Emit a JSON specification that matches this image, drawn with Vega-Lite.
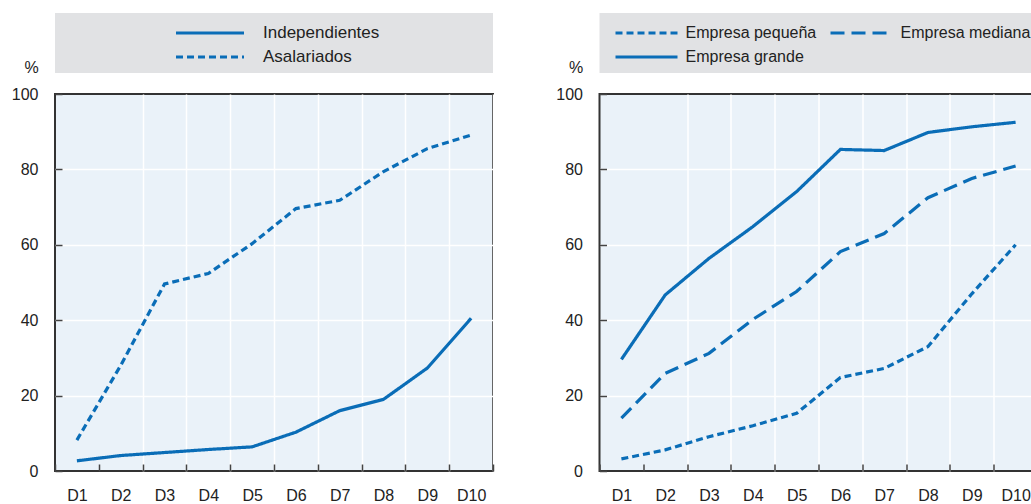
{
  "$schema": "https://vega.github.io/schema/vega-lite/v6.json",
  "autosize": {"type": "pad"},
  "padding": {"left": 10, "top": 13, "right": 0, "bottom": 0},
  "background": "white",
  "config": {
    "font": "Liberation Sans",
    "view": {"stroke": null},
    "line": {"color": "#0a6db7"}
  },
  "datasets": {
    "ocupacion": [
      {"decil": "D1", "serie": "Independientes", "valor": 2.7},
      {"decil": "D2", "serie": "Independientes", "valor": 4.1},
      {"decil": "D3", "serie": "Independientes", "valor": 4.9},
      {"decil": "D4", "serie": "Independientes", "valor": 5.7},
      {"decil": "D5", "serie": "Independientes", "valor": 6.4},
      {"decil": "D6", "serie": "Independientes", "valor": 10.3},
      {"decil": "D7", "serie": "Independientes", "valor": 16.0},
      {"decil": "D8", "serie": "Independientes", "valor": 19.0},
      {"decil": "D9", "serie": "Independientes", "valor": 27.3},
      {"decil": "D10", "serie": "Independientes", "valor": 40.5},
      {"decil": "D1", "serie": "Asalariados", "valor": 8.2},
      {"decil": "D2", "serie": "Asalariados", "valor": 28.0},
      {"decil": "D3", "serie": "Asalariados", "valor": 49.6},
      {"decil": "D4", "serie": "Asalariados", "valor": 52.4},
      {"decil": "D5", "serie": "Asalariados", "valor": 60.3},
      {"decil": "D6", "serie": "Asalariados", "valor": 69.6},
      {"decil": "D7", "serie": "Asalariados", "valor": 71.8},
      {"decil": "D8", "serie": "Asalariados", "valor": 79.4},
      {"decil": "D9", "serie": "Asalariados", "valor": 85.5},
      {"decil": "D10", "serie": "Asalariados", "valor": 89.1}
    ],
    "empresa": [
      {"decil": "D1", "serie": "Empresa pequeña", "valor": 3.2},
      {"decil": "D2", "serie": "Empresa pequeña", "valor": 5.6},
      {"decil": "D3", "serie": "Empresa pequeña", "valor": 9.1},
      {"decil": "D4", "serie": "Empresa pequeña", "valor": 12.0},
      {"decil": "D5", "serie": "Empresa pequeña", "valor": 15.3},
      {"decil": "D6", "serie": "Empresa pequeña", "valor": 24.8},
      {"decil": "D7", "serie": "Empresa pequeña", "valor": 27.2},
      {"decil": "D8", "serie": "Empresa pequeña", "valor": 33.0},
      {"decil": "D9", "serie": "Empresa pequeña", "valor": 47.0},
      {"decil": "D10", "serie": "Empresa pequeña", "valor": 60.0},
      {"decil": "D1", "serie": "Empresa mediana", "valor": 14.0},
      {"decil": "D2", "serie": "Empresa mediana", "valor": 25.9},
      {"decil": "D3", "serie": "Empresa mediana", "valor": 31.2},
      {"decil": "D4", "serie": "Empresa mediana", "valor": 40.2},
      {"decil": "D5", "serie": "Empresa mediana", "valor": 47.6},
      {"decil": "D6", "serie": "Empresa mediana", "valor": 58.2},
      {"decil": "D7", "serie": "Empresa mediana", "valor": 63.0},
      {"decil": "D8", "serie": "Empresa mediana", "valor": 72.5},
      {"decil": "D9", "serie": "Empresa mediana", "valor": 77.6},
      {"decil": "D10", "serie": "Empresa mediana", "valor": 80.9},
      {"decil": "D1", "serie": "Empresa grande", "valor": 29.6},
      {"decil": "D2", "serie": "Empresa grande", "valor": 46.7},
      {"decil": "D3", "serie": "Empresa grande", "valor": 56.4},
      {"decil": "D4", "serie": "Empresa grande", "valor": 64.8},
      {"decil": "D5", "serie": "Empresa grande", "valor": 74.1},
      {"decil": "D6", "serie": "Empresa grande", "valor": 85.3},
      {"decil": "D7", "serie": "Empresa grande", "valor": 85.0},
      {"decil": "D8", "serie": "Empresa grande", "valor": 89.8},
      {"decil": "D9", "serie": "Empresa grande", "valor": 91.3},
      {"decil": "D10", "serie": "Empresa grande", "valor": 92.5}
    ]
  },
  "columns": 2,
  "spacing": {"row": 21, "column": 106.5},
  "bounds": "flush",
  "resolve": {"scale": {"strokeDash": "independent", "x": "independent", "y": "independent"}, "legend": {"strokeDash": "independent"}},
  "concat": [
    {
      "width": 438,
      "height": 60,
      "view": {"fill": "#e1e2e4", "stroke": null},
      "data": {"name": "ocupacion"},
      "mark": {"type": "line", "opacity": 0, "color": "#0a6db7", "strokeWidth": 3},
      "encoding": {
        "x": {"field": "decil", "type": "ordinal", "sort": null, "axis": null},
        "y": {"field": "valor", "type": "quantitative", "axis": null},
        "strokeDash": {
          "field": "serie", "type": "nominal",
          "scale": {"domain": ["Independientes", "Asalariados"], "range": [[1, 0], [7, 4]]},
          "legend": {
            "title": null, "orient": "none", "legendX": 119, "legendY": 10,
            "direction": "vertical", "padding": 0, "clipHeight": 20,
            "symbolType": "stroke", "symbolSize": 4624, "symbolStrokeWidth": 3.2,
            "symbolStrokeColor": "#0a6db7", "symbolOpacity": 1,
            "labelFont": "Liberation Sans", "labelFontSize": 17, "labelColor": "#222",
            "labelOffset": 17, "rowPadding": 4
          }
        }
      }
    },
    {
      "width": 438,
      "height": 60,
      "view": {"fill": "#e1e2e4", "stroke": null},
      "data": {"name": "empresa"},
      "mark": {"type": "line", "opacity": 0, "color": "#0a6db7", "strokeWidth": 3},
      "encoding": {
        "x": {"field": "decil", "type": "ordinal", "sort": null, "axis": null},
        "y": {"field": "valor", "type": "quantitative", "axis": null},
        "strokeDash": {
          "field": "serie", "type": "nominal",
          "scale": {"domain": ["Empresa pequeña", "Empresa mediana", "Empresa grande"], "range": [[7, 4], [14, 7], [1, 0]]},
          "legend": {
            "title": null, "orient": "none", "legendX": 14, "legendY": 10,
            "direction": "horizontal", "columns": 2, "columnPadding": 12, "padding": 0, "clipHeight": 20,
            "symbolType": "stroke", "symbolSize": 3844, "symbolStrokeWidth": 3.2,
            "symbolStrokeColor": "#0a6db7", "symbolOpacity": 1,
            "labelFont": "Liberation Sans", "labelFontSize": 16, "labelColor": "#222",
            "labelOffset": 6, "rowPadding": 4
          }
        }
      }
    },
    {
      "width": 438,
      "height": 377,
      "view": {"fill": "#eaf2f9", "stroke": "#333", "strokeWidth": 2},
      "data": {"name": "ocupacion"},
      "mark": {"type": "line", "color": "#0a6db7", "strokeWidth": 3.2},
      "encoding": {
        "x": {
          "field": "decil", "type": "ordinal", "sort": null,
          "scale": {"type": "band", "paddingInner": 0, "paddingOuter": 0},
          "axis": {
            "title": null, "tickBand": "extent", "domain": false, "labelAngle": 0,
            "tickSize": -7, "tickColor": "#444", "tickWidth": 1.5,
            "grid": true, "gridColor": "white", "gridWidth": 1.5,
            "gridOpacity": {"condition": {"test": "datum.value === 'D1' || datum.extra", "value": 0}, "value": 1},
            "labelPadding": 23, "labelFontSize": 16, "labelColor": "#222"
          }
        },
        "y": {
          "field": "valor", "type": "quantitative",
          "scale": {"domain": [0, 100], "nice": false},
          "axis": {
            "title": "%", "titleAngle": 0, "titleAlign": "center", "titleBaseline": "alphabetic",
            "titleX": -24, "titleY": -22, "titleFontSize": 16, "titleFontWeight": "normal", "titleColor": "#222",
            "values": [0, 20, 40, 60, 80, 100], "domain": false,
            "tickSize": -7, "tickColor": "#444", "tickWidth": 1.5,
            "grid": true, "gridColor": "white", "gridWidth": 1.5,
            "gridOpacity": {"condition": {"test": "datum.value === 0 || datum.value === 100", "value": 0}, "value": 1},
            "labelPadding": 24, "labelFontSize": 16, "labelColor": "#222"
          }
        },
        "strokeDash": {
          "field": "serie", "type": "nominal",
          "scale": {"domain": ["Independientes", "Asalariados"], "range": [[1, 0], [7, 4]]},
          "legend": null
        }
      }
    },
    {
      "width": 438,
      "height": 377,
      "view": {"fill": "#eaf2f9", "stroke": "#333", "strokeWidth": 2},
      "data": {"name": "empresa"},
      "mark": {"type": "line", "color": "#0a6db7", "strokeWidth": 3.2},
      "encoding": {
        "x": {
          "field": "decil", "type": "ordinal", "sort": null,
          "scale": {"type": "band", "paddingInner": 0, "paddingOuter": 0},
          "axis": {
            "title": null, "tickBand": "extent", "domain": false, "labelAngle": 0,
            "tickSize": -7, "tickColor": "#444", "tickWidth": 1.5,
            "grid": true, "gridColor": "white", "gridWidth": 1.5,
            "gridOpacity": {"condition": {"test": "datum.value === 'D1' || datum.extra", "value": 0}, "value": 1},
            "labelPadding": 23, "labelFontSize": 16, "labelColor": "#222"
          }
        },
        "y": {
          "field": "valor", "type": "quantitative",
          "scale": {"domain": [0, 100], "nice": false},
          "axis": {
            "title": "%", "titleAngle": 0, "titleAlign": "center", "titleBaseline": "alphabetic",
            "titleX": -24, "titleY": -22, "titleFontSize": 16, "titleFontWeight": "normal", "titleColor": "#222",
            "values": [0, 20, 40, 60, 80, 100], "domain": false,
            "tickSize": -7, "tickColor": "#444", "tickWidth": 1.5,
            "grid": true, "gridColor": "white", "gridWidth": 1.5,
            "gridOpacity": {"condition": {"test": "datum.value === 0 || datum.value === 100", "value": 0}, "value": 1},
            "labelPadding": 24, "labelFontSize": 16, "labelColor": "#222"
          }
        },
        "strokeDash": {
          "field": "serie", "type": "nominal",
          "scale": {"domain": ["Empresa pequeña", "Empresa mediana", "Empresa grande"], "range": [[7, 4], [14, 7], [1, 0]]},
          "legend": null
        }
      }
    }
  ]
}
